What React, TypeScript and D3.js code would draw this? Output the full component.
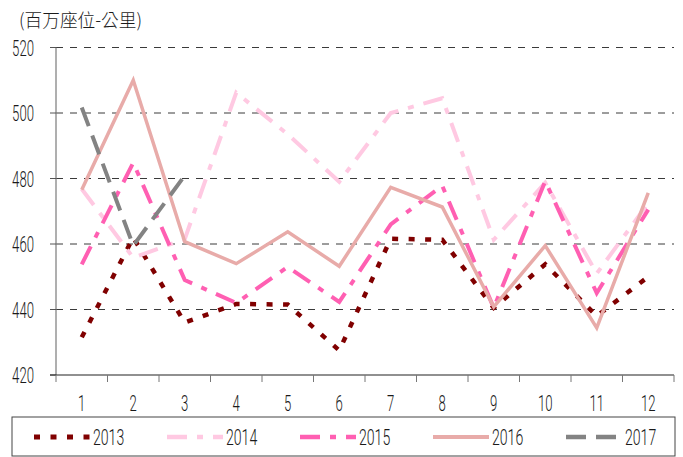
import React, { useRef, useEffect } from "react";
import * as d3 from "d3";

const months = ["1", "2", "3", "4", "5", "6", "7", "8", "9", "10", "11", "12"];
const yTicks = [420, 440, 460, 480, 500, 520];

const s2013 = [431.5, 462, 436, 441.7, 441.5, 427.5, 461.6, 461.3, 440.5, 453.8, 438, 450];
const s2014 = [476.8, 455.8, 461.5, 506.2, 493.5, 479, 500, 504.5, 461.3, 478.7, 451, 472.5];
const s2015 = [453.8, 484.8, 449, 442, 453, 442.3, 466, 477.8, 440.5, 479.2, 445, 470.5];
const s2016 = [476.6, 510, 460.7, 454, 463.7, 453.2, 477.3, 471.3, 440.8, 459.5, 434.4, 475.6];
const s2017 = [501.7, 459.5, 480.9];

const series = [
  { name: "2013", values: s2013, color: "#800000", width: 4.5, dash: "6,10.5" },
  { name: "2014", values: s2014, color: "#ffc9e2", width: 4, dash: "20,10,6,10" },
  { name: "2015", values: s2015, color: "#ff5fb2", width: 4, dash: "20,10,6,10" },
  { name: "2016", values: s2016, color: "#e8aba9", width: 3.5, dash: null },
  { name: "2017", values: s2017, color: "#838383", width: 4, dash: "20,10" },
];

const FONT = "Roboto, 'Liberation Sans', sans-serif";
const DIGIT_W = 7.3;

const App = () => {
  const svgRef = useRef(null);
  const W = 683;
  const H = 457;
  const left = 56;
  const right = 674;
  const top = 47.5;
  const bottom = 375;

  useEffect(() => {
    const svg = d3.select(svgRef.current);
    svg.selectAll("*").remove();

    const x = d3.scaleBand().domain(months).range([left, right]);
    const y = d3.scaleLinear().domain([420, 520]).range([bottom, top]);

    // gridlines
    const grid = svg.append("g").attr("class", "grid");
    yTicks.filter((t) => t > 420).forEach((t) => {
      grid.append("line")
        .attr("x1", left).attr("x2", right)
        .attr("y1", y(t)).attr("y2", y(t))
        .attr("stroke", "#3a3a3a")
        .attr("stroke-width", 1)
        .attr("stroke-dasharray", "7,7");
    });

    // y axis
    const yAxis = svg.append("g");
    yAxis.append("line")
      .attr("x1", left).attr("x2", left)
      .attr("y1", top).attr("y2", bottom)
      .attr("stroke", "#7a7a7a").attr("stroke-width", 1.2);
    yTicks.forEach((t) => {
      yAxis.append("line")
        .attr("x1", left - 6).attr("x2", left)
        .attr("y1", y(t)).attr("y2", y(t))
        .attr("stroke", "#555").attr("stroke-width", 1);
      const s = String(t);
      yAxis.append("text")
        .attr("x", 34)
        .attr("y", y(t) + 8)
        .attr("text-anchor", "end")
        .attr("font-family", FONT)
        .attr("font-weight", 300)
        .attr("font-size", 21.5)
        .attr("fill", "#1a1a1a")
        .attr("textLength", s.length * DIGIT_W)
        .attr("lengthAdjust", "spacingAndGlyphs")
        .text(s);
    });

    // x axis
    const xAxis = svg.append("g");
    xAxis.append("line")
      .attr("x1", left - 6).attr("x2", right)
      .attr("y1", bottom).attr("y2", bottom)
      .attr("stroke", "#222").attr("stroke-width", 1.2);
    months.forEach((m, i) => {
      const x0 = x(m);
      xAxis.append("line")
        .attr("x1", x0).attr("x2", x0)
        .attr("y1", bottom).attr("y2", bottom + 7)
        .attr("stroke", "#777").attr("stroke-width", 1);
      if (i === months.length - 1) {
        xAxis.append("line")
          .attr("x1", right).attr("x2", right)
          .attr("y1", bottom).attr("y2", bottom + 7)
          .attr("stroke", "#777").attr("stroke-width", 1);
      }
      xAxis.append("text")
        .attr("x", x0 + x.bandwidth() / 2)
        .attr("y", 411)
        .attr("text-anchor", "middle")
        .attr("font-family", FONT)
        .attr("font-weight", 300)
        .attr("font-size", 21.5)
        .attr("fill", "#1a1a1a")
        .attr("textLength", m.length * DIGIT_W)
        .attr("lengthAdjust", "spacingAndGlyphs")
        .text(m);
    });

    // lines
    const line = d3.line()
      .x((d, i) => x(months[i]) + x.bandwidth() / 2)
      .y((d) => y(d));
    const lines = svg.append("g");
    series.forEach((s) => {
      lines.append("path")
        .datum(s.values)
        .attr("d", line)
        .attr("fill", "none")
        .attr("stroke", s.color)
        .attr("stroke-width", s.width)
        .attr("stroke-dasharray", s.dash)
        .attr("stroke-linejoin", "miter");
    });

    // title
    svg.append("text")
      .attr("x", 19)
      .attr("y", 27)
      .attr("font-family", "'Noto Sans CJK TC', 'Noto Sans CJK SC', sans-serif")
      .attr("font-weight", 300)
      .attr("font-size", 18.5)
      .attr("fill", "#1a1a1a")
      .attr("textLength", 123)
      .attr("lengthAdjust", "spacingAndGlyphs")
      .text("(百万座位-公里)");

    // legend
    const lg = svg.append("g");
    lg.append("rect")
      .attr("x", 12).attr("y", 417)
      .attr("width", 663).attr("height", 39)
      .attr("fill", "none")
      .attr("stroke", "#444").attr("stroke-width", 1);
    series.forEach((s, i) => {
      const lx = 34 + i * 133;
      lg.append("line")
        .attr("x1", lx).attr("x2", lx + 56)
        .attr("y1", 437).attr("y2", 437)
        .attr("stroke", s.color)
        .attr("stroke-width", s.width + 0.5)
        .attr("stroke-dasharray", s.dash);
      lg.append("text")
        .attr("x", lx + 59)
        .attr("y", 444.5)
        .attr("font-family", FONT)
        .attr("font-weight", 300)
        .attr("font-size", 22)
        .attr("fill", "#1a1a1a")
        .attr("textLength", s.name.length * 7.8)
        .attr("lengthAdjust", "spacingAndGlyphs")
        .text(s.name);
    });
  }, []);

  return (
    <div style={{ position: "absolute", left: 0, top: 0 }}>
      <svg ref={svgRef} width={W} height={H} style={{ display: "block", background: "#fff" }} />
    </div>
  );
};

export default App;
